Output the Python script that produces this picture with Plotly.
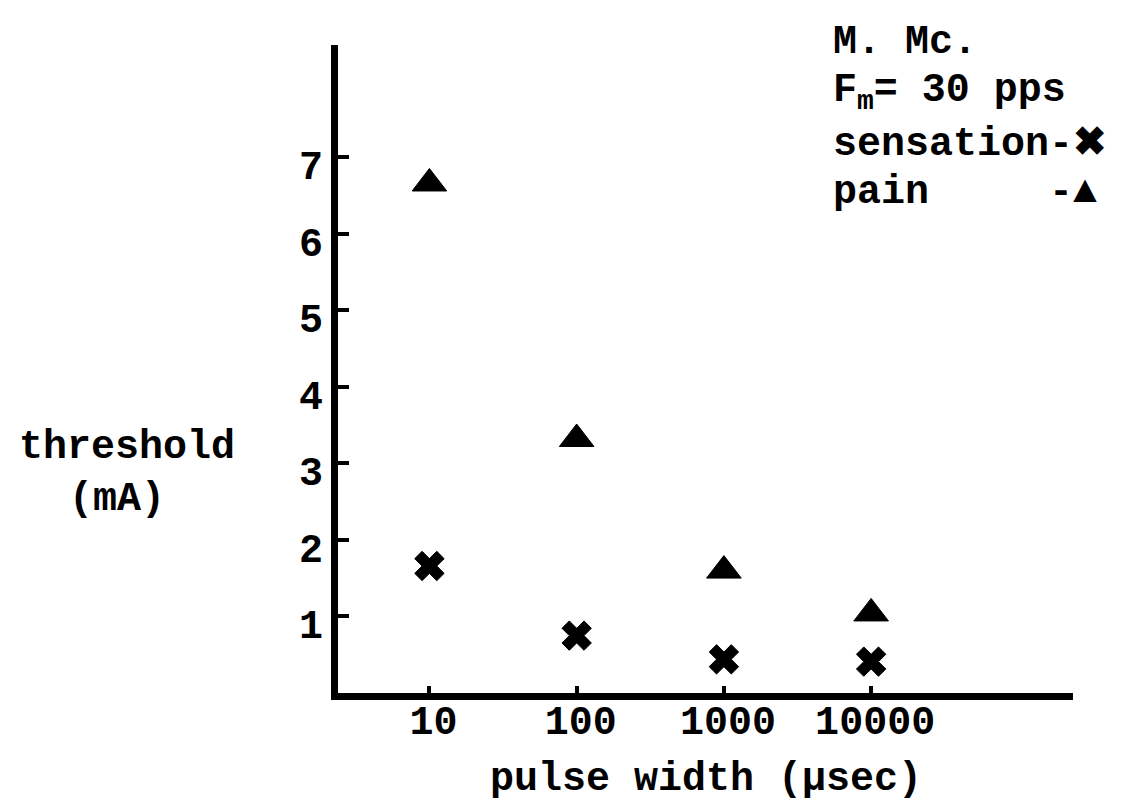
import plotly.graph_objects as go

# ---- data ----
pulse_width_us = [10, 100, 1000, 10000]
sensation_mA = [1.66, 0.75, 0.44, 0.41]
pain_mA = [6.66, 3.32, 1.60, 1.04]

x_tick_vals = [10, 100, 1000, 10000]
x_tick_text = ["10", "100", "1000", "10000"]
y_tick_vals = [1, 2, 3, 4, 5, 6, 7]
y_tick_text = ["1", "2", "3", "4", "5", "6", "7"]

legend_lines = ["M. Mc.", "F<sub>m</sub>= 30 pps", "sensation-\u2716", "pain\u00a0\u00a0\u00a0\u00a0\u00a0-\u25B2"]
y_title_lines = ["threshold", "(mA)"]
x_title = "pulse width (\u03bcsec)"

# ---- geometry ----
W, H = 1128, 801
L, R, T, B = 338, 1073, 45, 693

def px_x(px):
    return (px - L) / (R - L)

def px_y(py):
    return (B - py) / (B - T)

FONT = "Liberation Mono"
tfont = dict(family=FONT, size=40, color="black", weight="bold")

fig = go.Figure()
fig.add_trace(go.Scatter(
    x=pulse_width_us, y=sensation_mA, mode="markers", name="sensation",
    marker=dict(symbol="x", size=26, color="black", line=dict(width=1, color="black")),
))
fig.add_trace(go.Scatter(
    x=pulse_width_us, y=pain_mA, mode="markers", name="pain",
    marker=dict(symbol="triangle-up", size=30, color="black", line=dict(width=1, color="black")),
))

annotations = []
legend_y = [42, 92, 144, 192]
for txt, yy in zip(legend_lines, legend_y):
    annotations.append(dict(text=txt, xref="paper", yref="paper", x=px_x(831), y=px_y(yy),
                            xanchor="left", yanchor="middle", showarrow=False, font=tfont))
annotations.append(dict(text=y_title_lines[0], xref="paper", yref="paper", x=px_x(127), y=px_y(447),
                        xanchor="center", yanchor="middle", showarrow=False, font=tfont))
annotations.append(dict(text=y_title_lines[1], xref="paper", yref="paper", x=px_x(117), y=px_y(499),
                        xanchor="center", yanchor="middle", showarrow=False, font=tfont))
annotations.append(dict(text=x_title, xref="paper", yref="paper", x=px_x(706), y=px_y(779),
                        xanchor="center", yanchor="middle", showarrow=False, font=tfont))

fig.update_layout(
    width=W, height=H, autosize=False,
    margin=dict(l=L, r=W - R, t=T, b=H - B, pad=0),
    paper_bgcolor="white", plot_bgcolor="white",
    showlegend=False,
    annotations=annotations,
    xaxis=dict(type="log", range=[0.379, 5.371], showline=True, linewidth=7, linecolor="black",
               ticks="inside", ticklen=7, tickwidth=4, tickcolor="black",
               tickvals=x_tick_vals, ticktext=x_tick_text, tickfont=tfont,
               ticklabelstandoff=-14, ticklabelshift=4,
               showgrid=False, zeroline=False, automargin=False),
    yaxis=dict(range=[0, 8.47], showline=True, linewidth=7, linecolor="black",
               ticks="inside", ticklen=11, tickwidth=4, tickcolor="black",
               tickvals=y_tick_vals, ticktext=y_tick_text, tickfont=tfont,
               ticklabelshift=8,
               showgrid=False, zeroline=False, automargin=False),
)

fig.write_html("out.html")
